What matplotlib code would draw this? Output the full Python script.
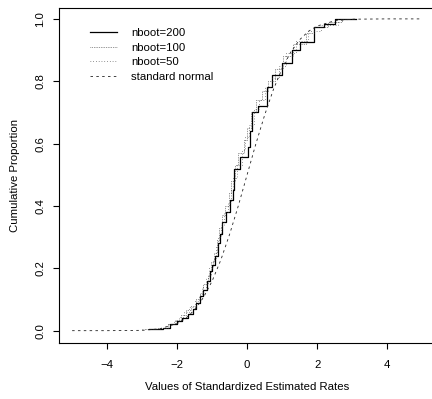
import matplotlib.pyplot as plt

plt.rcParams.update({
    "font.family": "Liberation Sans",
    "font.size": 8.2,
    "axes.linewidth": 0.8,
    "xtick.direction": "out",
    "ytick.direction": "out",
    "xtick.major.size": 4,
    "ytick.major.size": 4,
})

# ECDF steps (x = jump location, F = level after the jump)
x_200 = [-2.8, -2.4, -2.2, -2.0, -1.85, -1.7, -1.55, -1.45, -1.34, -1.25, -1.15, -1.06,
         -1.0, -0.92, -0.83, -0.78, -0.71, -0.6, -0.49, -0.4, -0.38, -0.2, 0.02, 0.08,
         0.14, 0.3, 0.58, 0.72, 1.0, 1.29, 1.51, 1.9, 2.2, 2.5, 3.1]
F_200 = [0.006, 0.01, 0.02, 0.03, 0.04, 0.055, 0.07, 0.09, 0.11, 0.13, 0.16, 0.19,
         0.21, 0.24, 0.28, 0.31, 0.35, 0.38, 0.42, 0.45, 0.52, 0.556, 0.59, 0.64,
         0.70, 0.72, 0.78, 0.82, 0.86, 0.90, 0.926, 0.974, 0.985, 1.0, 1.0]

x_100 = [-2.9, -2.5, -2.25, -2.05, -1.9, -1.75, -1.6, -1.45, -1.35, -1.25, -1.12, -1.02,
         -0.95, -0.87, -0.8, -0.72, -0.62, -0.52, -0.45, -0.35, -0.25, -0.1, 0.0, 0.1,
         0.25, 0.43, 0.6, 0.8, 1.03, 1.3, 1.69, 1.9, 2.3, 2.7, 3.0]
F_100 = [0.005, 0.01, 0.02, 0.035, 0.05, 0.065, 0.08, 0.1, 0.12, 0.15, 0.18, 0.22,
         0.25, 0.29, 0.33, 0.37, 0.4, 0.44, 0.48, 0.53, 0.57, 0.61, 0.65, 0.7,
         0.74, 0.77, 0.8, 0.84, 0.88, 0.92, 0.955, 0.975, 0.99, 1.0, 1.0]

x_50 = [-3.0, -2.6, -2.3, -2.1, -1.95, -1.8, -1.65, -1.5, -1.38, -1.28, -1.18, -1.08,
        -0.98, -0.9, -0.82, -0.75, -0.66, -0.56, -0.47, -0.4, -0.3, -0.15, -0.05, 0.05,
        0.2, 0.35, 0.52, 0.7, 0.9, 1.1, 1.4, 1.75, 2.1, 2.6, 3.0]
F_50 = [0.005, 0.01, 0.02, 0.03, 0.045, 0.06, 0.075, 0.095, 0.115, 0.14, 0.17, 0.2,
        0.23, 0.27, 0.3, 0.34, 0.38, 0.41, 0.45, 0.49, 0.53, 0.58, 0.62, 0.66,
        0.71, 0.74, 0.78, 0.81, 0.85, 0.89, 0.93, 0.96, 0.98, 1.0, 1.0]

# standard normal CDF values
x_norm = [-5, -4, -3, -2.5, -2, -1.75, -1.5, -1.25, -1, -0.75, -0.5, -0.25, 0,
          0.25, 0.5, 0.75, 1, 1.25, 1.5, 1.75, 2, 2.5, 3, 4, 5]
F_norm = [0.0, 0.0, 0.001, 0.006, 0.023, 0.040, 0.067, 0.106, 0.159, 0.227, 0.309, 0.401, 0.5,
          0.599, 0.691, 0.773, 0.841, 0.894, 0.933, 0.960, 0.977, 0.994, 0.999, 1.0, 1.0]

fig = plt.figure(figsize=(4.32, 3.99), dpi=100)
ax = fig.add_axes((0.137, 0.14, 0.87, 0.84))

ax.step(x_200, F_200, where="post", color="black", lw=0.9, label="nboot=200")
ax.step(x_100, F_100, where="post", color="#333333", lw=0.5, ls=(0, (1, 1.5)), label="nboot=100")
ax.step(x_50, F_50, where="post", color="#333333", lw=0.5, ls=(0, (1, 3)), label="nboot=50")
ax.plot(x_norm, F_norm, color="#222222", lw=0.6, ls=(0, (3, 4)), label="standard normal")

ax.set_xlim(-5.37, 5.37)
ax.set_ylim(-0.04, 1.035)
ax.set_xticks([-4, -2, 0, 2, 4])
ax.set_yticks([0.0, 0.2, 0.4, 0.6, 0.8, 1.0])
ax.set_yticklabels(["0.0", "0.2", "0.4", "0.6", "0.8", "1.0"], rotation=90, va="center")
ax.tick_params(axis="x", pad=8, width=0.8)
ax.tick_params(axis="y", pad=6, width=0.8)

ax.set_xlabel("Values of Standardized Estimated Rates", labelpad=9)
ax.set_ylabel("Cumulative Proportion", labelpad=11)

ax.legend(loc="upper left", bbox_to_anchor=(0.055, 0.97), frameon=False,
          handlelength=2.4, handletextpad=1.2, labelspacing=0.4)

fig.savefig("out.png", dpi=100)
